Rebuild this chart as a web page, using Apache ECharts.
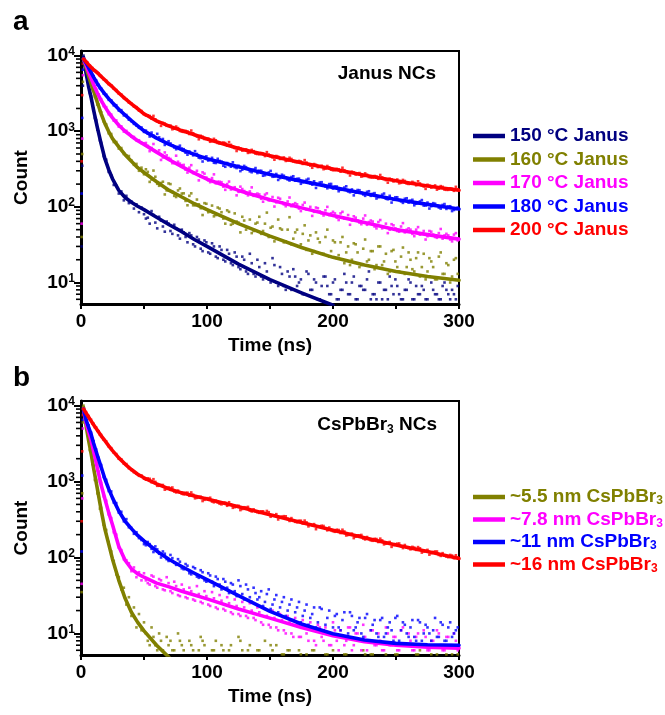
<!DOCTYPE html>
<html>
<head>
<meta charset="utf-8">
<script src="https://cdn.jsdelivr.net/npm/echarts@6/dist/echarts.min.js"></script>
<style>
  html, body { margin: 0; padding: 0; background: #fff; }
  #chart { width: 665px; height: 715px; }
</style>
</head>
<body>
<div id="chart"></div>
<script>
const FONT = '"Liberation Sans", Arial, Helvetica, sans-serif';
const Y_MIN = 5.2;
const Y_MAX = 11500;

// Time (ns) of the measured points, first pass
const sampleTime = [0.5, 1, 1.5,
  2, 3, 4, 5, 6, 7, 8, 9, 10, 11, 12, 13, 14, 15, 16,
  18, 20, 22, 24, 26, 28, 30, 32, 34, 36, 38, 40, 42, 44, 46, 48, 50,
  53, 56, 59, 62, 65, 68, 71, 74, 77, 80, 83, 86, 89, 92, 95, 98, 101, 104, 107, 110,
  113, 116, 119, 122, 125, 128, 131, 134, 137, 140, 143, 146, 149, 152, 155, 158, 161, 164, 167, 170,
  173, 176, 179, 182, 185, 188, 191, 194, 197, 200, 203, 206, 209, 212, 215, 218, 221, 224, 227, 230,
  233, 236, 239, 242, 245, 248, 251, 254, 257, 260, 263, 266, 269, 272, 275, 278, 281, 284, 287, 290,
  293, 296, 299];

// Time (ns) of the interleaved points on the slow tail
const sampleTime2 = [51.5, 54.5, 57.5, 60.5, 63.5, 66.5, 69.5, 72.5, 75.5, 78.5,
  81.5, 84.5, 87.5, 90.5, 93.5, 96.5, 99.5, 102.5, 105.5, 108.5,
  111.5, 114.5, 117.5, 120.5, 123.5, 126.5, 129.5, 132.5, 135.5, 138.5,
  141.5, 144.5, 147.5, 150.5, 153.5, 156.5, 159.5, 162.5, 165.5, 168.5,
  171.5, 174.5, 177.5, 180.5, 183.5, 186.5, 189.5, 192.5, 195.5, 198.5,
  201.5, 204.5, 207.5, 210.5, 213.5, 216.5, 219.5, 222.5, 225.5, 228.5,
  231.5, 234.5, 237.5, 240.5, 243.5, 246.5, 249.5, 252.5, 255.5, 258.5,
  261.5, 264.5, 267.5, 270.5, 273.5, 276.5, 279.5, 282.5, 285.5, 288.5,
  291.5, 294.5, 297.5];

// Time (ns) of the fitted decay curves
const fitTime = [2, 4, 6, 8, 10, 13, 16, 19, 22, 25, 30, 35, 40, 45, 50, 60, 70, 80, 90, 100,
  125, 150, 175, 200, 225, 250, 275, 300];

// Minor tick positions on the logarithmic count axis
const minorTickValues = [6, 7, 8, 9, 20, 30, 40, 50, 60, 70, 80, 90,
  200, 300, 400, 500, 600, 700, 800, 900, 2000, 3000, 4000, 5000, 6000, 7000, 8000, 9000];

// ---- Panel a: Janus NCs ----
const janusNames = ['150 °C Janus', '160 °C Janus', '170 °C Janus', '180 °C Janus', '200 °C Janus'];
const janusColors = ['#000080', '#808000', '#FF00FF', '#0000FF', '#FF0000'];

const janus150Pts = [30, 350, 4000,
  10000, 7600, 6200, 4700, 4000, 3200, 2900, 2200, 1950, 1500, 1400, 1050, 980, 760, 700,
  470, 420, 290, 260, 195, 190, 150, 160, 122, 140, 112, 118, 95, 108, 85, 98, 80,
  72, 88, 62, 74, 55, 64, 48, 58, 42, 50,
  40, 45, 32, 40, 28, 36, 25, 33, 22, 30,
  20, 27, 18, 25, 16, 22, 14, 24, 13, 20,
  12, 18, 11, 21, 10, 16, 9, 14, 8, 12,
  10, 7, 14, 8, 11, 6, 9, 12, 7, 10,
  6, 8, 13, 7, 10, 6, 9, 8, 11, 6,
  7, 10, 6, 8, 12, 7, 9, 6, 8, 11,
  6, 9, 7, 8, 6, 10, 7, 6, 9, 8,
  6, 7, 9];
const janus150Pts2 = [70, 60, 78, 52, 66, 47, 60, 44, 52, 38,
  46, 34, 42, 30, 37, 26, 34, 24, 30, 21,
  27, 19, 24, 17, 22, 15, 20, 13, 18, 12,
  16, 11, 14, 10, 17, 9, 13, 8, 12, 15,
  9, 11, 7, 13, 8, 10, 6, 12, 9, 7,
  11, 6, 8, 10, 7, 12, 6, 9, 8, 14,
  7, 6, 10, 8, 6, 9, 11, 7, 6, 8,
  10, 6, 7, 9, 6, 12, 8, 7, 6, 10,
  7, 8, 6];
const janus160Pts = [40, 500, 4500,
  9600, 7700, 7200, 5900, 5600, 4550, 4350, 3600, 3550, 2850, 2800, 2250, 2250, 1850, 1780,
  1350, 1230, 940, 920, 720, 720, 590, 600, 500, 480, 470, 410, 360, 370, 300, 330, 270,
  290, 230, 250, 190, 215, 165, 200, 140, 165, 150,
  120, 140, 105, 125, 96, 112, 85, 104, 78, 95,
  70, 90, 58, 82, 62, 74, 50, 68, 48, 62,
  44, 60, 40, 55, 38, 52, 34, 50, 32, 46,
  30, 44, 27, 42, 26, 38, 24, 40, 22, 36,
  21, 34, 18, 30, 20, 32, 16, 28, 19, 26,
  15, 30, 17, 24, 14, 27, 16, 22, 13, 25,
  15, 21, 12, 24, 14, 19, 11, 22, 13, 18,
  10, 20, 13];
const janus160Pts2 = [314, 214, 302, 202, 207, 146, 204, 158, 135, 175,
  151, 105, 151, 105, 108, 78, 110, 88, 75, 98,
  85, 60, 86, 60, 64, 46, 66, 53, 45, 60,
  74, 48, 84, 53, 35, 68, 50, 35, 73, 38,
  50, 32, 57, 36, 24, 46, 34, 24, 50, 26,
  34, 23, 40, 25, 17, 33, 25, 17, 37, 20,
  26, 17, 30, 19, 13, 26, 19, 14, 29, 16,
  20, 14, 25, 16, 11, 21, 16, 11, 25, 13,
  17, 12, 21];
const janus170Pts = [60, 800, 5500,
  9200, 8100, 7700, 6500, 6300, 5300, 5150, 4350, 4300, 3650, 3600, 3050, 3080, 2620, 2650,
  2150, 2080, 1680, 1660, 1380, 1390, 1150, 1160, 990, 1010, 930, 850, 840, 760, 760, 700, 690,
  640, 600, 540, 560, 450, 480, 430, 380, 395, 355,
  310, 330, 280, 300, 250, 275, 225, 240, 205, 215,
  185, 200, 170, 182, 158, 172, 150, 160, 140, 150,
  128, 145, 122, 135, 115, 128, 108, 118, 102, 112,
  95, 106, 92, 100, 86, 96, 82, 90, 78, 86,
  72, 82, 70, 78, 66, 72, 62, 70, 58, 66,
  55, 63, 52, 60, 50, 57, 48, 55, 46, 52,
  44, 50, 43, 48, 41, 47, 40, 45, 38, 44,
  37, 43, 36];
const janus170Pts2 = [700, 545, 678, 525, 417, 524, 443, 378, 475, 373,
  359, 284, 356, 280, 224, 286, 244, 212, 269, 215,
  212, 168, 216, 173, 142, 185, 162, 142, 181, 146,
  146, 117, 151, 123, 101, 132, 115, 102, 133, 108,
  108, 88, 114, 92, 76, 98, 87, 77, 100, 82,
  82, 67, 86, 70, 58, 75, 66, 59, 77, 63,
  64, 52, 67, 54, 45, 59, 52, 47, 61, 50,
  50, 41, 54, 44, 37, 48, 43, 39, 51, 42,
  42, 35, 45];
const janus180Pts = [150, 1500, 6500,
  9300, 8300, 8200, 7200, 7050, 6300, 6150, 5450, 5350, 4750, 4700, 4150, 4100, 3700, 3680,
  3150, 3050, 2600, 2560, 2200, 2210, 1880, 1900, 1620, 1640, 1420, 1360, 1250, 1190, 1110, 1120, 980,
  930, 960, 820, 830, 790, 700, 690, 610, 620, 590,
  520, 540, 480, 500, 440, 455, 410, 445, 380, 405,
  350, 380, 340, 335, 350, 310, 335, 295, 310, 280,
  300, 262, 285, 250, 272, 240, 258, 230, 248, 222,
  236, 212, 228, 205, 218, 196, 212, 186, 200, 175,
  186, 168, 180, 160, 170, 154, 166, 146, 158, 140,
  152, 134, 145, 128, 140, 124, 134, 118, 128, 114,
  124, 110, 118, 104, 114, 102, 110, 98, 106, 94,
  102, 91, 98];
const janus180Pts2 = [1019, 851, 875, 924, 749, 659, 738, 651, 578, 644,
  579, 489, 510, 545, 446, 398, 465, 426, 383, 432,
  396, 339, 356, 388, 326, 297, 348, 318, 287, 326,
  300, 258, 273, 299, 251, 227, 266, 245, 223, 254,
  235, 202, 215, 235, 197, 178, 210, 194, 176, 201,
  186, 161, 171, 187, 156, 142, 167, 154, 140, 161,
  149, 129, 137, 150, 126, 114, 134, 123, 113, 130,
  121, 105, 112, 123, 104, 95, 112, 104, 95, 109,
  101, 88, 94];
const janus200Pts = [400, 3000, 7800,
  9400, 8700, 8250, 8100, 7500, 7350, 6900, 6850, 6400, 6350, 6050, 5900, 5800, 5450, 5350,
  4850, 4650, 4200, 4050, 3650, 3500, 3150, 3050, 2750, 2650, 2400, 2330, 2130, 2080, 1880, 1850, 1670,
  1620, 1470, 1430, 1300, 1290, 1180, 1190, 1080, 1100, 990,
  1010, 920, 940, 850, 870, 790, 800, 740, 760, 690,
  710, 645, 660, 600, 610, 555, 575, 525, 545, 500,
  515, 470, 490, 450, 470, 430, 450, 410, 430, 392,
  405, 370, 385, 352, 368, 336, 350, 320, 333, 305,
  318, 292, 305, 280, 292, 268, 280, 255, 266, 245,
  256, 235, 245, 226, 236, 217, 230, 208, 220, 201,
  214, 193, 204, 186, 196, 180, 192, 174, 184, 168,
  176, 163, 171];
const janus200Pts2 = [1612, 1591, 1595, 1351, 1178, 1260, 1180, 1062, 1153, 1009,
  980, 991, 1021, 883, 783, 845, 798, 726, 793, 700,
  686, 698, 717, 622, 548, 594, 566, 517, 567, 505,
  497, 509, 529, 465, 420, 460, 441, 405, 446, 399,
  390, 398, 415, 365, 329, 359, 343, 315, 347, 310,
  306, 314, 329, 290, 260, 286, 273, 251, 277, 248,
  245, 252, 264, 233, 209, 231, 222, 205, 227, 204,
  202, 208, 218, 192, 173, 191, 184, 169, 188, 169,
  168, 174, 184];

const janus150Fit = [9500, 5900, 3900, 2800, 1900, 1120, 680, 430, 310, 235, 165, 133, 115, 102, 92,
  73, 58, 47, 37, 30, 17.5, 10.9, 7.3, 5.0, null, null, null, null];
const janus160Fit = [9000, 6900, 5400, 4200, 3400, 2400, 1700, 1260, 990, 800, 620, 490, 400, 330, 285,
  215, 165, 135, 110, 92, 60, 41, 29, 21.5, 17, 14, 12, 10.7];
const janus170Fit = [9000, 7500, 6100, 5000, 4150, 3200, 2550, 2100, 1760, 1500, 1200, 1000, 860, 750, 670,
  530, 420, 340, 280, 232, 165, 124, 97, 77, 62, 50, 43, 37.5];
const janus180Fit = [9000, 8000, 6900, 6000, 5200, 4250, 3600, 3100, 2700, 2380, 1950, 1640, 1380, 1180, 1010,
  810, 670, 570, 495, 433, 338, 268, 219, 181, 150, 125, 108, 94];
const janus200Fit = [9000, 8300, 7600, 7000, 6500, 5950, 5300, 4750, 4250, 3850, 3200, 2700, 2300, 1980, 1700,
  1370, 1170, 1020, 900, 790, 590, 474, 384, 316, 262, 221, 189, 166];

// ---- Panel b: CsPbBr3 NCs ----
const sizeNames = ['~5.5 nm CsPbBr3', '~7.8 nm CsPbBr3', '~11 nm CsPbBr3', '~16 nm CsPbBr3'];
const sizeColors = ['#808000', '#FF00FF', '#0000FF', '#FF0000'];

const size55Pts = [35, 700, 6000,
  10000, 7000, 6000, 4100, 3800, 2600, 2500, 1700, 1650, 1050, 1050, 700, 700, 440, 450,
  270, 230, 160, 120, 90, 60, 55, 38, 40, 24, 30, 17, 22, 12, 18, 11, 14,
  8, 12, 7, 10, 6, 9, 8, 6, 10, 7,
  null, 8, 6, null, 9, 7, null, 6, 8, null,
  6, null, 7, null, 9, 6, null, 7, null, 6,
  null, 8, null, 6, 7, null, 5.3, 6, null, null,
  6, null, 5.3, null, 6, null, null, 5.3, null, 6,
  null, null, 5.3, null, null, null, null, 6, null, 5.3,
  null, null, null, 5.3, null, null, 5.3, null, null, null,
  null, 5.3, 6, null, null, 5.3, null, null, null, 5.3,
  null, null, 5.3];
const size55Pts2 = [10, 7, 9, 6, 8, null, 7, 6, null, 8,
  6, null, 7, null, 6, 8, null, null, 6, null,
  7, null, 6, null, null, 8, null, 6, null, null,
  6, null, null, 7, null, null, 5.3, null, 6, null,
  null, 5.3, null, null, 6, null, null, null, 5.3, null,
  null, null, null, 5.3, null, null, null, null, 5.3, null,
  5.3, null, null, null, null, null, 5.3, null, null, null,
  null, null, 5.3, null, null, null, null, 5.3, null, null,
  null, 5.3, null];
const size78Pts = [45, 600, 5000,
  9400, 7000, 6500, 5000, 5000, 3800, 3700, 2700, 2700, 1950, 1900, 1400, 1350, 1000, 960,
  640, 560, 370, 330, 215, 200, 135, 125, 95, 92, 84, 66, 74, 55, 64, 50, 62,
  46, 58, 42, 52, 38, 55, 36, 48, 32, 44,
  30, 40, 28, 42, 26, 36, 24, 35, 22, 32,
  21, 30, 19, 28, 18, 26, 17, 25, 16, 22,
  14, 21, 13, 20, 12, 18, 11, 17, 10, 16,
  9, 15, 10, 14, 8, 13, 9, 12, 7, 14,
  8, 11, 7, 12, 6, 10, 8, 13, 6, 11,
  7, 10, 6, 12, 7, 9, 6, 11, 7, 10,
  6, 9, 7, 11, 6, 8, 7, 10, 6, 9,
  7, 10, 6];
const size78Pts2 = [50, 44, 56, 40, 50, 37, 46, 34, 42, 31,
  38, 29, 36, 27, 33, 25, 31, 23, 29, 21,
  27, 20, 25, 18, 23, 17, 22, 16, 20, 15,
  19, 13, 17, 12, 16, 11, 15, 10, 14, 9,
  13, 9, 12, 8, 11, 7, 12, 8, 10, 7,
  11, 6, 9, 8, 12, 7, 10, 6, 9, 8,
  11, 7, 8, 6, 10, 7, 9, 6, 12, 7,
  8, 6, 10, 7, 9, 6, 8, 11, 7, 6,
  9, 7, 8];
const size11Pts = [120, 1200, 6500,
  9500, 7400, 6800, 5600, 5500, 4400, 4400, 3500, 3400, 2700, 2650, 2100, 2050, 1650, 1650,
  1150, 1050, 750, 740, 530, 520, 390, 400, 300, 320, 250, 245, 205, 215, 180, 170, 150,
  160, 130, 140, 112, 120, 95, 108, 85, 95, 72,
  82, 62, 75, 56, 68, 50, 62, 48, 56, 44,
  52, 40, 46, 36, 50, 33, 44, 30, 40, 28,
  36, 26, 38, 24, 32, 22, 30, 20, 28, 19,
  26, 17, 24, 16, 22, 14, 21, 13, 20, 12,
  18, 11, 19, 10, 17, 12, 16, 9, 18, 11,
  15, 9, 16, 10, 14, 8, 17, 11, 13, 9,
  15, 8, 14, 10, 12, 8, 16, 9, 13, 8,
  14, 10, 12];
const size11Pts2 = [145, 150, 118, 128, 100, 112, 90, 98, 80, 88,
  70, 78, 60, 72, 54, 64, 48, 58, 42, 52,
  38, 48, 34, 44, 31, 42, 28, 38, 26, 34,
  30, 23, 33, 21, 28, 19, 26, 17, 24, 15,
  22, 14, 20, 13, 18, 12, 22, 11, 16, 10,
  17, 12, 15, 9, 19, 11, 14, 10, 16, 8,
  13, 10, 15, 9, 12, 11, 16, 8, 14, 10,
  12, 9, 15, 8, 13, 10, 11, 9, 14, 8,
  12, 9, 11];
const size16Pts = [300, 2500, 7500,
  9300, 8400, 8200, 7450, 7300, 6600, 6500, 5850, 5750, 5200, 5150, 4650, 4600, 4150, 4100,
  3550, 3380, 2900, 2750, 2400, 2300, 2000, 1960, 1720, 1700, 1500, 1420, 1330, 1270, 1190, 1200, 1090,
  1100, 980, 990, 880, 900, 800, 820, 740, 760, 690,
  710, 650, 670, 610, 630, 575, 600, 545, 560, 510,
  525, 480, 500, 460, 480, 435, 455, 415, 430, 395,
  405, 380, 395, 360, 372, 340, 350, 322, 330, 295,
  305, 280, 290, 270, 275, 254, 262, 240, 248, 222,
  232, 210, 220, 198, 206, 188, 196, 178, 186, 168,
  176, 160, 168, 152, 160, 146, 152, 140, 146, 133,
  138, 126, 132, 120, 126, 114, 120, 108, 114, 103,
  108, 98, 100];
const size16Pts2 = [1057, 1087, 1074, 879, 899, 782, 836, 835, 720, 715,
  679, 714, 719, 602, 626, 554, 605, 612, 533, 530,
  501, 527, 534, 451, 475, 421, 459, 464, 404, 406,
  387, 406, 410, 344, 360, 317, 345, 349, 303, 305,
  291, 305, 306, 257, 268, 236, 258, 260, 228, 229,
  218, 230, 232, 195, 203, 180, 196, 198, 173, 174,
  166, 175, 177, 149, 156, 138, 150, 153, 133, 135,
  128, 135, 137, 116, 122, 109, 118, 120, 105, 106,
  101, 106, 107];

const size55Fit = [9500, 5500, 3500, 2350, 1500, 800, 420, 235, 150, 95, 50, 29, 19, 14, 10.8,
  7.0, 4.8, null, null, null, null, null, null, null, null, null, null, null];
const size78Fit = [9000, 6000, 4600, 3500, 2500, 1500, 900, 590, 390, 270, 140, 92, 71, 61, 55,
  46, 41, 36, 32, 28.5, 21, 15.9, 12, 9.3, 7.8, 7.0, 6.6, 6.4];
const size11Fit = [9000, 6500, 5200, 4200, 3200, 2200, 1550, 1080, 800, 610, 410, 300, 240, 195, 165,
  122, 94, 76, 62, 51, 31.5, 19.5, 13.3, 9.9, 8.2, 7.4, 7.1, 7.0];
const size16Fit = [9000, 8000, 7100, 6300, 5600, 4750, 4000, 3450, 2950, 2550, 2050, 1700, 1440, 1250, 1120,
  930, 800, 710, 645, 590, 465, 366, 288, 228, 182, 146, 120, 97];

function zip(xs, ys) {
  const out = [];
  xs.forEach((x, i) => { if (ys[i] != null) out.push([x, ys[i]]); });
  return out;
}

const panels = [
  { idx: 0, names: janusNames, colors: janusColors,
    pts: [janus150Pts, janus160Pts, janus170Pts, janus180Pts, janus200Pts],
    pts2: [janus150Pts2, janus160Pts2, janus170Pts2, janus180Pts2, janus200Pts2],
    fits: [janus150Fit, janus160Fit, janus170Fit, janus180Fit, janus200Fit] },
  { idx: 1, names: sizeNames, colors: sizeColors,
    pts: [size55Pts, size78Pts, size11Pts, size16Pts],
    pts2: [size55Pts2, size78Pts2, size11Pts2, size16Pts2],
    fits: [size55Fit, size78Fit, size11Fit, size16Fit] }
];

const series = [];
// measured counts, drawn as small square dots
panels.forEach(p => {
  p.names.forEach((n, i) => {
    series.push({
      type: 'scatter', name: n + ' (data)', xAxisIndex: p.idx, yAxisIndex: p.idx,
      data: zip(sampleTime, p.pts[i]).concat(zip(sampleTime2, p.pts2[i])),
      symbol: 'rect', symbolSize: 2.6,
      itemStyle: { color: p.colors[i] }, silent: true, z: 2
    });
  });
});
// fitted decay curves
panels.forEach(p => {
  p.names.forEach((n, i) => {
    series.push({
      type: 'line', name: n, xAxisIndex: p.idx, yAxisIndex: p.idx,
      data: zip(fitTime, p.fits[i]), symbol: 'none', showSymbol: false, smooth: false,
      lineStyle: { color: p.colors[i], width: 3.6, join: 'round', cap: 'round' },
      itemStyle: { color: p.colors[i] }, silent: true, z: 3
    });
  });
});
// minor ticks of the log axis (outward, on the left edge)
[0, 1].forEach(g => {
  series.push({
    type: 'custom', name: 'minor ticks ' + g, xAxisIndex: g, yAxisIndex: g, silent: true, z: 5,
    data: minorTickValues.map(v => [0, v]),
    renderItem: (params, api) => {
      const pt = api.coord([api.value(0), api.value(1)]);
      return { type: 'line', shape: { x1: pt[0] - 5, y1: pt[1], x2: pt[0] - 1, y2: pt[1] },
               style: { stroke: '#000', lineWidth: 1.6 } };
    }
  });
});

const boldText = { fontFamily: FONT, fontWeight: 'bold', color: '#000' };

function xAxisCfg(i) {
  return {
    type: 'value', gridIndex: i, min: 0, max: 300, interval: 50,
    name: 'Time (ns)', nameLocation: 'middle', nameGap: 32,
    nameTextStyle: Object.assign({ fontSize: 19 }, boldText),
    axisLine: { show: true, onZero: false, lineStyle: { color: '#000', width: 3 } },
    axisTick: { show: true, inside: false, length: 5, lineStyle: { color: '#000', width: 2 } },
    splitLine: { show: false },
    axisLabel: Object.assign({
      fontSize: 19, margin: 8,
      formatter: v => (v % 100 === 0 ? String(v) : '')
    }, boldText)
  };
}

function yAxisCfg(i) {
  return {
    type: 'log', logBase: 10, gridIndex: i, min: Y_MIN, max: Y_MAX,
    name: 'Count', nameLocation: 'middle', nameGap: 50, nameRotate: 90,
    nameTextStyle: Object.assign({ fontSize: 19 }, boldText),
    axisLine: { show: true, onZero: false, lineStyle: { color: '#000', width: 3 } },
    axisTick: { show: true, inside: false, length: 7, lineStyle: { color: '#000', width: 2 } },
    minorTick: { show: false },
    splitLine: { show: false },
    axisLabel: {
      margin: 6, showMinLabel: false, showMaxLabel: false,
      formatter: v => {
        const e = Math.round(Math.log10(v));
        return Math.abs(Math.log10(v) - e) < 1e-6 ? '{b|10}{s|' + e + '}' : '';
      },
      rich: {
        b: { fontFamily: FONT, fontWeight: 'bold', fontSize: 19, color: '#000', lineHeight: 20, verticalAlign: 'middle' },
        s: { fontFamily: FONT, fontWeight: 'bold', fontSize: 12, color: '#000', lineHeight: 12, verticalAlign: 'top' }
      }
    }
  };
}

function legendCfg(p, top, gap, fmt) {
  return {
    orient: 'vertical', left: 468, top: top,
    icon: 'rect', itemWidth: 32, itemHeight: 4.5, itemGap: gap,
    selectedMode: false,
    data: p.names.map((n, i) => ({ name: n, textStyle: { color: p.colors[i] } })),
    formatter: fmt,
    textStyle: {
      fontFamily: FONT, fontWeight: 'bold', fontSize: 19, lineHeight: 20,
      rich: {
        m: { fontFamily: FONT, fontWeight: 'bold', fontSize: 19, lineHeight: 20 },
        s: { fontFamily: FONT, fontWeight: 'bold', fontSize: 12, lineHeight: 12, verticalAlign: 'bottom' }
      }
    }
  };
}

const option = {
  animation: false,
  backgroundColor: '#fff',
  grid: [
    { left: 81, top: 51, width: 378, height: 253, show: true, borderColor: '#000', borderWidth: 2, backgroundColor: 'transparent' },
    { left: 81, top: 401, width: 378, height: 254, show: true, borderColor: '#000', borderWidth: 2, backgroundColor: 'transparent' }
  ],
  xAxis: [xAxisCfg(0), xAxisCfg(1)],
  yAxis: [yAxisCfg(0), yAxisCfg(1)],
  legend: [
    legendCfg(panels[0], 121, 3.5, n => n),
    legendCfg(panels[1], 482, 2.5, n => '{m|' + n.replace('Br3', 'Br') + '}{s|3}')
  ],
  graphic: [
    { type: 'text', left: 13, top: 8, style: { text: 'a', font: 'bold 28px ' + FONT, fill: '#000' } },
    { type: 'text', left: 13, top: 364, style: { text: 'b', font: 'bold 28px ' + FONT, fill: '#000' } },
    { type: 'text', right: 229, top: 64, style: { text: 'Janus NCs', font: 'bold 19px ' + FONT, fill: '#000' } },
    { type: 'text', right: 228, top: 415, style: {
        text: '{m|CsPbBr}{s|3}{m| NCs}',
        rich: {
          m: { fontFamily: FONT, fontWeight: 'bold', fontSize: 19, lineHeight: 22, fill: '#000', verticalAlign: 'middle' },
          s: { fontFamily: FONT, fontWeight: 'bold', fontSize: 12, lineHeight: 12, fill: '#000', verticalAlign: 'bottom' }
        }
      } }
  ],
  series: series
};

const chart = echarts.init(document.getElementById('chart'), null, { renderer: 'canvas' });
chart.setOption(option);
</script>
</body>
</html>
